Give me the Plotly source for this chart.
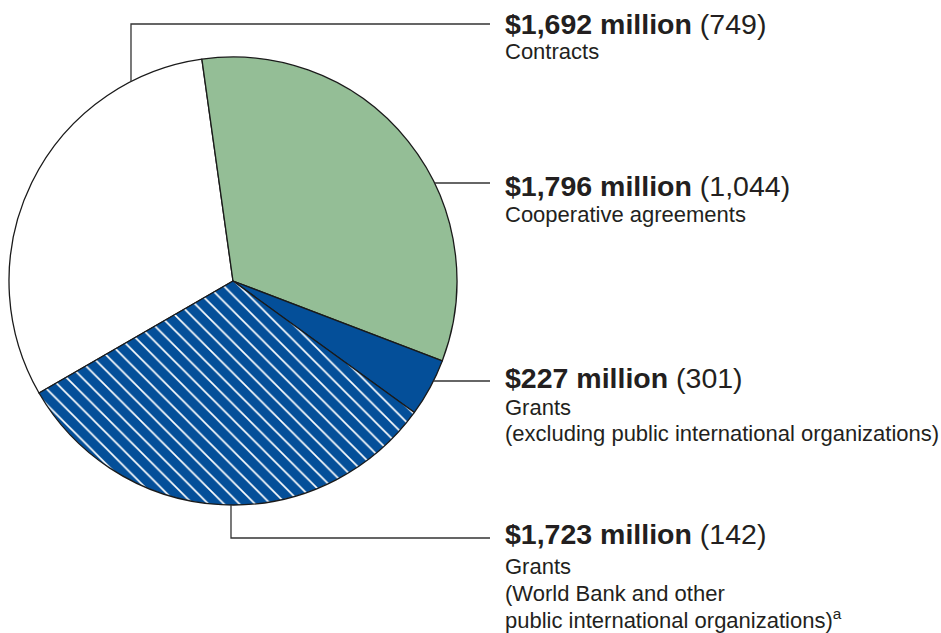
import plotly.graph_objects as go

# ---- data ----
categories = [
    "Contracts",
    "Cooperative agreements",
    "Grants (excluding public international organizations)",
    "Grants (World Bank and other public international organizations)",
]
amounts_musd = [1692, 1796, 227, 1723]
award_counts = [749, 1044, 301, 142]
label_lines = [
    ["Contracts"],
    ["Cooperative agreements"],
    ["Grants", "(excluding public international organizations)"],
    ["Grants", "(World Bank and other", "public international organizations)<sup>a</sup>"],
]

# ---- styling ----
W, H = 941, 633
slice_colors = ["#ffffff", "#94be96", "#044f99", "#044f99"]
patterns = ["", "", "", "\\"]
text_color = "#231f20"
line_color = "#333333"
FONT = "Liberation Sans, Arial, sans-serif"

# pie geometry (pixels)
cx, cy, r = 233, 281, 224


def px(x):
    return x / W


def py(y):
    return 1 - y / H


fig = go.Figure()
fig.add_trace(go.Pie(
    labels=categories,
    values=amounts_musd,
    sort=False,
    direction="clockwise",
    rotation=-120,
    textinfo="none",
    hoverinfo="label+value",
    showlegend=False,
    domain=dict(x=[px(cx - r), px(cx + r)], y=[py(cy + r), py(cy - r)]),
    marker=dict(
        colors=slice_colors,
        line=dict(color="#1a1a1a", width=1.3),
        pattern=dict(shape=patterns, fgcolor="#ffffff", bgcolor=slice_colors,
                     size=11, solidity=0.15, fillmode="replace"),
    ),
))

# leader lines (pixel paths)
text_x = 503
leaders = [
    [(131, 82), (131, 24), (490, 24)],
    [(434.5, 183), (490, 183)],
    [(433.5, 381), (490, 381)],
    [(231, 505), (231, 538), (490, 538)],
]
for pts in leaders:
    path = "M " + " L ".join(f"{px(x):.5f},{py(y):.5f}" for x, y in pts)
    fig.add_shape(type="path", path=path, xref="paper", yref="paper",
                  line=dict(color=line_color, width=1.3))

# label text
head_y = [24, 186, 378, 534]
sub_y = [[51], [214.5], [407.5, 433.5], [566, 593, 619]]
for i in range(len(categories)):
    fig.add_annotation(
        x=px(text_x), y=py(head_y[i]), xref="paper", yref="paper",
        xanchor="left", yanchor="middle", showarrow=False,
        text=f"<b>${amounts_musd[i]:,} million</b> ({award_counts[i]:,})",
        font=dict(family=FONT, size=28.5, color=text_color),
    )
    for line, yy in zip(label_lines[i], sub_y[i]):
        fig.add_annotation(
            x=px(text_x), y=py(yy), xref="paper", yref="paper",
            xanchor="left", yanchor="middle", showarrow=False,
            text=line,
            font=dict(family=FONT, size=22, color=text_color),
        )

fig.update_layout(
    width=W, height=H, autosize=False,
    margin=dict(l=0, r=0, t=0, b=0),
    paper_bgcolor="white", plot_bgcolor="white",
)

fig.write_html("out.html", config={"displayModeBar": False},
               post_script="document.body.style.margin='0';document.body.style.overflow='hidden';")
